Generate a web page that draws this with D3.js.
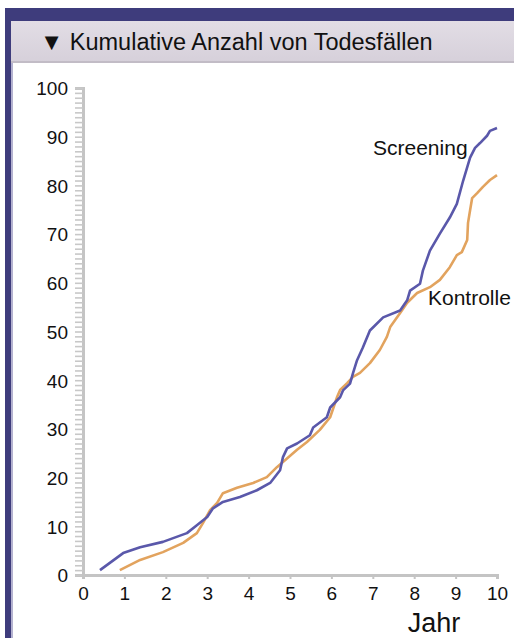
<!DOCTYPE html>
<html><head><meta charset="utf-8">
<script src="https://cdn.jsdelivr.net/npm/d3@7"></script>
<style>html,body{margin:0;padding:0;background:#fff;}svg{display:block;}</style>
</head><body>
<svg id="c" width="514" height="638"></svg>
<script>
const title = "▼ Kumulative Anzahl von Todesfällen";
const xLabel = "Jahr";
const xTicks = [0,1,2,3,4,5,6,7,8,9,10];
const yTicks = [0,10,20,30,40,50,60,70,80,90,100];
const seriesNames = ["Screening","Kontrolle"];
const screeningYears = [0.41,0.97,1.38,1.93,2.51,2.75,3.0,3.14,3.38,3.79,4.2,4.52,4.76,4.83,4.93,5.17,5.48,5.56,5.89,5.97,6.21,6.28,6.45,6.52,6.62,6.76,6.93,7.25,7.66,7.83,7.9,8.14,8.21,8.38,8.62,8.86,9.03,9.18,9.35,9.47,9.59,9.76,9.83,10.0];
const screeningValues = [1.0,4.5,5.7,6.8,8.6,10.2,11.9,13.7,15.0,16.0,17.4,18.9,21.5,24.2,26.0,27.0,28.7,30.3,32.4,34.4,36.5,37.9,39.3,41.4,44.1,46.7,50.2,52.9,54.3,56.4,58.4,59.8,62.5,66.6,70.1,73.4,76.2,80.9,85.7,87.7,88.7,90.2,91.2,91.8];
const kontrolleYears = [0.89,1.38,1.93,2.42,2.75,2.9,3.07,3.24,3.38,3.72,4.11,4.44,4.69,4.83,5.17,5.41,5.72,5.97,6.14,6.21,6.38,6.52,6.69,6.93,7.17,7.34,7.42,7.66,7.83,8.07,8.38,8.62,8.86,9.03,9.15,9.28,9.3,9.35,9.4,9.52,9.66,9.83,10.0];
const kontrolleValues = [1.0,3.1,4.7,6.6,8.6,10.7,13.3,14.8,16.8,17.9,18.9,20.1,22.2,23.2,25.7,27.3,29.8,32.4,36.6,38.0,39.4,40.7,41.5,43.5,46.2,48.9,50.9,53.8,55.9,57.9,59.1,60.6,63.2,65.7,66.3,68.8,72.3,74.9,77.4,78.4,79.7,81.1,82.1];

const svg = d3.select("#c");
const font = "'Liberation Sans', Arial, sans-serif";

// frame
const defs = svg.append("defs");
const hg = defs.append("linearGradient").attr("id","hg").attr("x1",0).attr("y1",0).attr("x2",0).attr("y2",1);
hg.append("stop").attr("offset","0%").attr("stop-color","#e2dde5");
hg.append("stop").attr("offset","100%").attr("stop-color","#d6d0da");
svg.append("rect").attr("x",5).attr("y",8).attr("width",509).attr("height",13).attr("fill","#3e3c7c");
svg.append("rect").attr("x",5).attr("y",8).attr("width",6).attr("height",630).attr("fill","#3e3c7c");
svg.append("rect").attr("x",11).attr("y",21).attr("width",2).attr("height",617).attr("fill","#b4b2d0");
svg.append("rect").attr("x",11).attr("y",21).attr("width",503).attr("height",41).attr("fill","url(#hg)");
svg.append("rect").attr("x",11).attr("y",61).attr("width",503).attr("height",2).attr("fill","#c2bcc6");
svg.append("text").attr("x",40).attr("y",50).attr("font-family",font).attr("font-size",23.5)
  .attr("fill","#111").text(title);

const x = d3.scaleLinear().domain([0,10]).range([83,497]);
const y = d3.scaleLinear().domain([0,100]).range([575,88]);

// y axis
const yAxis = d3.axisLeft(y).tickValues(d3.range(0,101,1)).tickSize(8).tickFormat("");
const gy = svg.append("g").attr("transform","translate(83,0)").call(yAxis);
gy.selectAll("line").attr("stroke","#c8c8c8").attr("stroke-width",1.6);
gy.select(".domain").attr("stroke","#c4c4c4").attr("stroke-width",3);
const gyl = svg.append("g").attr("transform","translate(83,0)")
  .call(d3.axisLeft(y).tickValues(yTicks).tickSize(0).tickPadding(15));
gyl.select(".domain").remove();
gyl.selectAll("text").attr("font-family",font).attr("font-size",19).attr("fill","#111").attr("dy","0.36em");

// x axis
const gx = svg.append("g").attr("transform","translate(0,575)")
  .call(d3.axisBottom(x).tickValues(xTicks).tickSize(4).tickPadding(8));
gx.select(".domain").attr("stroke","#c4c4c4").attr("stroke-width",3);
gx.selectAll("line").attr("stroke","#c4c4c4").attr("stroke-width",2);
gx.selectAll("text").attr("font-family",font).attr("font-size",19).attr("fill","#111");

svg.append("text").attr("x",434).attr("y",632).attr("text-anchor","middle")
  .attr("font-family",font).attr("font-size",27).attr("fill","#111").text(xLabel);

const line = d3.line().x(d=>x(d[0])).y(d=>y(d[1]));
const kData = d3.zip(kontrolleYears,kontrolleValues);
const sData = d3.zip(screeningYears,screeningValues);
svg.append("path").datum(kData).attr("d",line).attr("fill","none")
  .attr("stroke","#e2a35e").attr("stroke-width",2.6).attr("stroke-linejoin","round");
svg.append("path").datum(sData).attr("d",line).attr("fill","none")
  .attr("stroke","#5a58aa").attr("stroke-width",2.6).attr("stroke-linejoin","round");

svg.append("text").attr("x",373).attr("y",155).attr("font-family",font).attr("font-size",21)
  .attr("fill","#111").text(seriesNames[0]);
svg.append("text").attr("x",428).attr("y",305).attr("font-family",font).attr("font-size",21)
  .attr("fill","#111").text(seriesNames[1]);
</script>
</body></html>
